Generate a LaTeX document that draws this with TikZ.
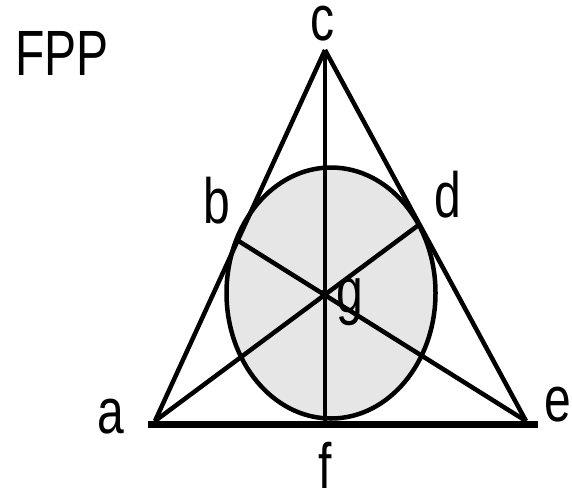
\documentclass[tikz,border=0pt]{standalone}
\usepackage{fontspec}
\setmainfont{Liberation Sans}
\usepackage{graphicx}
\usepackage{xcolor}

\definecolor{discgray}{HTML}{E6E6E6}
\newcommand{\narrowtext}[1]{\scalebox{0.75}[1]{#1}}

\tikzset{
  lbl/.style={inner sep=0pt, anchor=base, text height=33pt, text depth=0pt,
    font=\fontsize{64}{64}\selectfont},
  fline/.style={line width=4.5pt},
}

\begin{document}
\begin{tikzpicture}[x=1pt, y=-1pt]
  \useasboundingbox (0,0) rectangle (572,490);
  % points of the plane
  \coordinate (pa) at (155,421);
  \coordinate (pb) at (237,240);
  \coordinate (pc) at (325,50);
  \coordinate (pd) at (420,224);
  \coordinate (pe) at (526,421);
  \coordinate (pf) at (325,421);
  \coordinate (pg) at (325,293);
  \coordinate (baseL) at (148,424);
  \coordinate (baseR) at (538,424);
  % the circle line
  \filldraw[fill=discgray, fline] (331,293) ellipse (104.5pt and 125.5pt);
  % the other lines
  \draw[fline] (pc) -- (pa);
  \draw[fline] (pc) -- (pe);
  \draw[fline] (pc) -- (pf);
  \draw[fline] (pa) -- (pd);
  \draw[fline] (pe) -- (pb);
  \draw[line width=7pt] (baseL) -- (baseR);
  \fill (pg) circle (4pt);
  \node[lbl, text height=47pt] (title) at (62,75) {\narrowtext{FPP}};
  \foreach \lab/\x/\y in {a/111/433,b/217/223,c/322/40,d/448/217,e/558/421,f/325/488,g/350/312} {
    \node[lbl] (l\lab) at (\x,\y) {\narrowtext{\lab}};
  }
\end{tikzpicture}
\end{document}
